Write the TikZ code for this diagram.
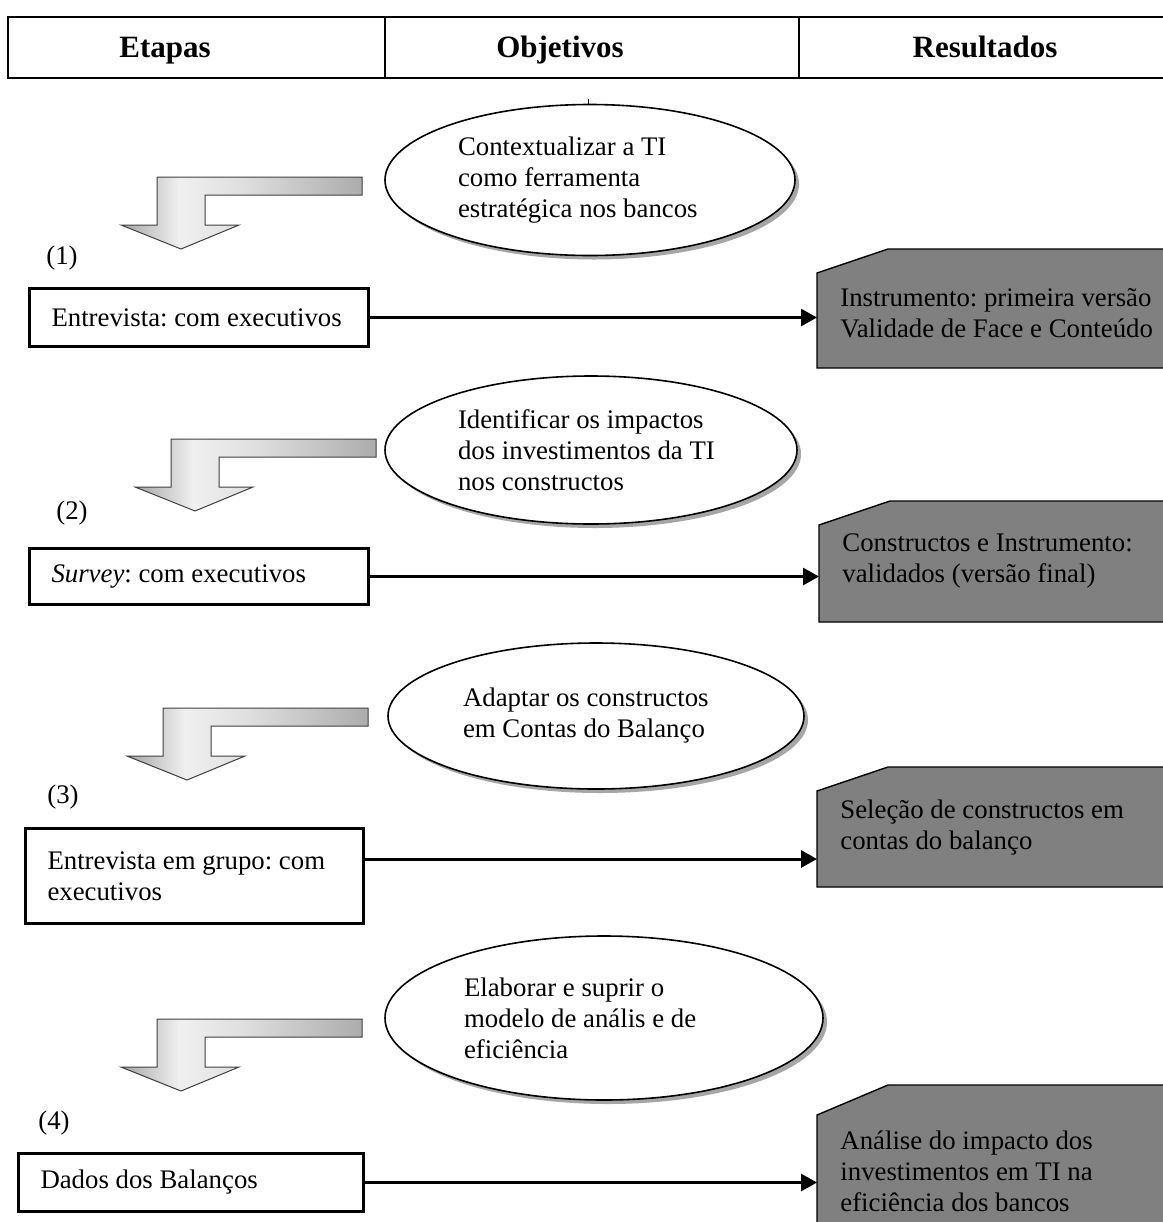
\documentclass[tikz,border=0pt]{standalone}
\usepackage{fontspec}
\setmainfont{Liberation Serif}
\frenchspacing
\usetikzlibrary{shapes.geometric,shadows,arrows.meta}
\pgfdeclarehorizontalshading{bendshade}{100bp}{color(0bp)=(gray!70); color(25bp)=(gray!70); color(37bp)=(gray!12); color(50bp)=(gray!25); color(75bp)=(gray!65); color(100bp)=(gray!65)}
\tikzset{
  every node/.style={font=\fontsize{13.4}{15.5}\selectfont},
  head/.style={font=\fontsize{15.5}{18}\selectfont\bfseries, anchor=base},
  etapa/.style={draw, line width=1.5pt, anchor=north west, align=flush left, inner xsep=11pt, inner ysep=0pt},
  goal/.style={ellipse, draw, line width=0.8pt, fill=white, inner sep=0pt, align=flush left,
    drop shadow={shadow xshift=2pt, shadow yshift=-2pt, fill=gray!70, opacity=1}},
  resfill/.style={fill=black!50, draw=black, line width=0.7pt},
  resultado/.style={anchor=west, align=flush left, inner xsep=11.5pt},
  bendarrow/.style={shading=bendshade, draw=gray!50!black, line width=0.5pt},
  flow/.style={line width=1.5pt, -{Triangle[length=8pt,width=8.5pt]}}
}
\begin{document}
\begin{tikzpicture}[x=0.5pt, y=-0.5pt]
  \useasboundingbox (0,0) rectangle (1163,1222);
  \clip (0,0) rectangle (1163,1222);
  \fill[white] (0,0) rectangle (1163,1222);

  % header
  \draw[line width=1.3pt] (1163,17) -- (8,17) -- (8,78) -- (1163,78);
  \draw[line width=1pt] (385,17) -- (385,78) (799,17) -- (799,78);
  \node[head] (hEtapas) at (165,57) {Etapas};
  \node[head] (hObjetivos) at (560,57) {Objetivos};
  \node[head] (hResultados) at (985,57) {Resultados};

  % bent arrows
  \foreach \sx/\sy in {157/177, 171/439, 163/708, 157/1019}
    \draw[bendarrow, shift={(\sx,\sy)}] (0,0) -- (205,0) -- (205,18) -- (48,18) -- (48,48)
      -- (82,48) -- (24,72) -- (-36,48) -- (0,48) -- cycle;

  % objectives
  \draw[line width=0.5pt] (588,99) -- (588,105);
  \node[goal, minimum width=205pt, minimum height=75.5pt, text width=132pt] (obj1) at (590,180)
    {Contextualizar a TI\\como ferramenta\\estratégica nos bancos};
  \node[goal, minimum width=206pt, minimum height=74pt, text width=133pt] (obj2) at (591,450)
    {Identificar os impactos\\dos investimentos da TI\\nos constructos};
  \node[goal, minimum width=208pt, minimum height=73pt, text width=133pt] (obj3) at (596,716)
    {Adaptar os constructos\\em Contas do Balanço};
  \node[goal, minimum width=219pt, minimum height=82pt, text width=140pt] (obj4) at (604,1018)
    {Elaborar e suprir o\\modelo de anális e de\\eficiência};

  % steps
  \node (n1) at (62,258) {(1)};
  \node (n2) at (72,513) {(2)};
  \node (n3) at (63,797) {(3)};
  \node (n4) at (54,1123) {(4)};
  \node[etapa, text width=147.5pt, minimum height=29pt] (etapa1) at (28,287) {\mbox{Entrevista: com executivos}};
  \node[etapa, text width=147.5pt, minimum height=28pt] (etapa2) at (28,547) {\mbox{\textit{Survey}: com executivos}};
  \node[etapa, text width=147pt, minimum height=47.5pt] (etapa3) at (24,827) {Entrevista em grupo: com\\executivos};
  \node[etapa, text width=150.5pt, minimum height=29pt] (etapa4) at (17,1152) {\mbox{Dados dos Balanços}};

  % results
  \filldraw[resfill] (817,273) -- (888,249) -- (1175,249) -- (1175,368) -- (817,368) -- cycle;
  \filldraw[resfill] (819,525) -- (890,501) -- (1175,501) -- (1175,622) -- (819,622) -- cycle;
  \filldraw[resfill] (817,791) -- (888,767) -- (1175,767) -- (1175,887) -- (817,887) -- cycle;
  \filldraw[resfill] (817,1115) -- (888,1085) -- (1175,1085) -- (1175,1240) -- (817,1240) -- cycle;
  \node[resultado] (res1) at (817,313) {Instrumento: primeira versão\\Validade de Face e Conteúdo};
  \node[resultado] (res2) at (819,561) {Constructos e Instrumento:\\validados (versão final)};
  \node[resultado] (res3) at (817,828) {Seleção de constructos em\\contas do balanço};
  \node[resultado] (res4) at (817,1171) {Análise do impacto dos\\investimentos em TI na\\eficiência dos bancos};

  % connectors
  \draw[flow] (etapa1.east) -- (etapa1.east -| res1.west);
  \draw[flow] (etapa2.east) -- (etapa2.east -| res2.west);
  \draw[flow] ([yshift=8.5pt]etapa3.east) -- ([yshift=8.5pt]etapa3.east -| res3.west);
  \draw[flow] (etapa4.east) -- (etapa4.east -| res4.west);
\end{tikzpicture}
\end{document}
